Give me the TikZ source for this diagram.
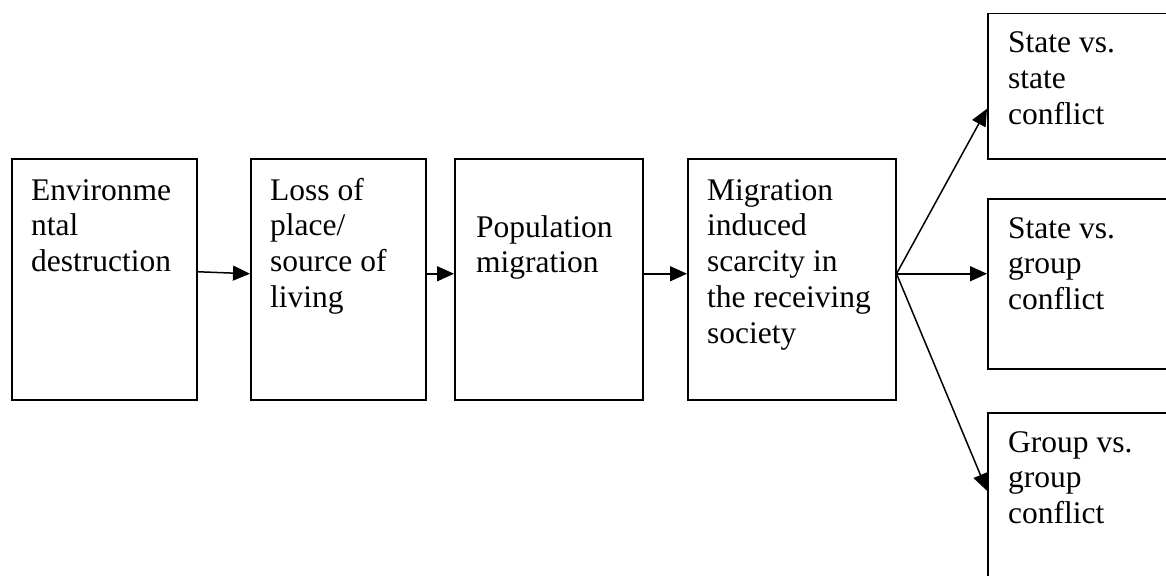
\documentclass[tikz,border=0pt]{standalone}
\usepackage{fontspec}
\setmainfont{Liberation Serif}
\usetikzlibrary{arrows.meta}
\begin{document}
\begin{tikzpicture}[x=1pt,y=-1pt,
  box/.style={draw, line width=1.5pt, inner sep=0pt, anchor=north west},
  txt/.style={anchor=base west, inner sep=0pt, font=\fontsize{31.5}{35.8}\selectfont},
  arr/.style={line width=1.5pt, -{Triangle[length=17pt,width=15pt]}}]
\useasboundingbox (0,0) rectangle (1166,575);
% boxes
\node[box, minimum width=185pt, minimum height=241pt] (b1) at (11,158) {};
\node[box, minimum width=175pt, minimum height=241pt] (b2) at (250,158) {};
\node[box, minimum width=188pt, minimum height=241pt] (b3) at (454,158) {};
\node[box, minimum width=208pt, minimum height=241pt] (b4) at (687,158) {};
\node[box, minimum width=200pt, minimum height=145pt] (b5) at (987,13) {};
\node[box, minimum width=200pt, minimum height=170pt] (b6) at (987,198) {};
\node[box, minimum width=200pt, minimum height=190pt] (b7) at (987,412) {};
% texts
\newcommand{\boxtext}[1]{\parbox[t]{220pt}{\raggedright #1}}
\node[txt] (t1) at ([xshift=20pt,yshift=-42pt]b1.north west) {\boxtext{Environme\\ntal\\destruction}};
\node[txt] (t2) at ([xshift=20pt,yshift=-42pt]b2.north west) {\boxtext{Loss of\\place/\\source of\\living}};
\node[txt] (t3) at ([xshift=22pt,yshift=-79pt]b3.north west) {\boxtext{Population\\migration}};
\node[txt] (t4) at ([xshift=20pt,yshift=-42pt]b4.north west) {\boxtext{Migration\\induced\\scarcity in\\the receiving\\society}};
\node[txt] (t5) at ([xshift=21pt,yshift=-40pt]b5.north west) {\boxtext{State vs.\\state\\conflict}};
\node[txt] (t6) at ([xshift=21pt,yshift=-40pt]b6.north west) {\boxtext{State vs.\\group\\conflict}};
\node[txt] (t7) at ([xshift=21pt,yshift=-40pt]b7.north west) {\boxtext{Group vs.\\group\\conflict}};
% connectors
\draw[arr] ([yshift=7.5pt]b1.east) -- ([yshift=5.5pt]b2.west);
\draw[arr] ([yshift=5.5pt]b2.east) -- ([yshift=5.5pt]b3.west);
\draw[arr] ([yshift=5.5pt]b3.east) -- ([yshift=5.5pt]b4.west);
\coordinate (fan) at ([yshift=5.5pt]b4.east);
\draw[arr] (fan) -- ([yshift=-22.5pt]b5.west);
\draw[arr] (fan) -- ([yshift=10pt]b6.west);
\draw[arr] (fan) -- ([yshift=17pt]b7.west);
\end{tikzpicture}
\end{document}
